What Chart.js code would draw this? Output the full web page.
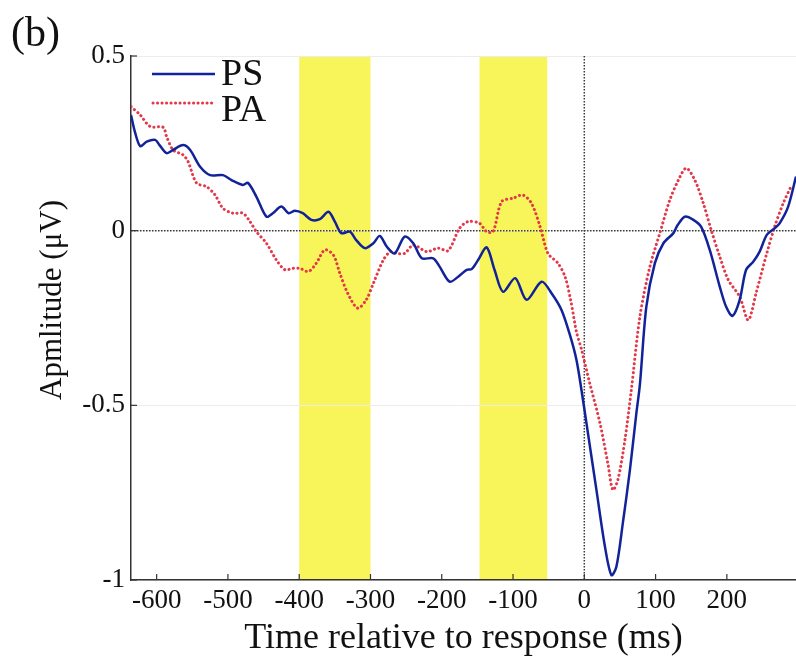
<!DOCTYPE html>
<html><head><meta charset="utf-8">
<script src="https://cdn.jsdelivr.net/npm/chart.js@4/dist/chart.umd.min.js"></script>
<style>html,body{margin:0;padding:0;background:#fff;}</style>
</head><body>
<canvas id="c" width="796" height="660"></canvas>
<script>
const panelLabel = '(b)';
const seriesNames = ['PS', 'PA'];
const psTimes = [-636,-630,-623,-614,-602,-596,-586,-577,-563,-553,-539,-525,-507,-495,-479,-472,-460,-446,-437,-425,-415,-406,-395,-383,-371,-359,-350,-341,-329,-320,-308,-296,-287,-277,-266,-252,-240,-228,-212,-203,-189,-177,-165,-158,-149,-137,-126,-114,-97,-81,-60,-46,-32,-20,-11,-4,3,17,29,38,45,54,64,73,78,87,99,111,125,131,141,153,164,176,190,199,208,218,227,237,246,256,267,274,286,297];
const psValues = [0.331,0.279,0.242,0.255,0.26,0.245,0.222,0.231,0.245,0.231,0.183,0.159,0.159,0.145,0.131,0.137,0.097,0.04,0.05,0.069,0.05,0.057,0.05,0.031,0.033,0.054,0.026,-0.007,-0.003,-0.027,-0.05,-0.036,-0.015,-0.046,-0.065,-0.017,-0.036,-0.079,-0.079,-0.103,-0.146,-0.132,-0.112,-0.11,-0.084,-0.048,-0.112,-0.175,-0.136,-0.198,-0.146,-0.179,-0.227,-0.3,-0.37,-0.456,-0.551,-0.742,-0.905,-0.986,-0.962,-0.838,-0.685,-0.523,-0.44,-0.218,-0.093,-0.036,-0.007,0.016,0.04,0.031,0.011,-0.055,-0.16,-0.218,-0.244,-0.198,-0.112,-0.089,-0.06,-0.012,0.007,0.021,0.069,0.155];
const paTimes = [-636,-623,-609,-591,-586,-577,-563,-556,-544,-530,-518,-507,-493,-479,-469,-460,-446,-432,-420,-409,-399,-387,-376,-364,-352,-343,-332,-318,-306,-296,-282,-272,-263,-252,-240,-221,-205,-191,-175,-163,-147,-137,-128,-116,-100,-86,-74,-62,-51,-37,-27,-19,-11,-4,8,22,33,40,47,57,66,78,92,106,120,132,143,155,167,178,190,202,218,230,241,256,267,279,291];
const paValues = [0.355,0.331,0.298,0.296,0.269,0.231,0.217,0.198,0.136,0.126,0.102,0.064,0.05,0.05,0.026,-0.003,-0.036,-0.084,-0.112,-0.108,-0.108,-0.117,-0.093,-0.055,-0.07,-0.122,-0.179,-0.222,-0.198,-0.151,-0.084,-0.06,-0.065,-0.065,-0.041,-0.06,-0.05,-0.057,0.007,0.026,0.021,-0.003,-0.003,0.083,0.093,0.102,0.078,0.011,-0.065,-0.093,-0.132,-0.2,-0.29,-0.34,-0.44,-0.551,-0.666,-0.742,-0.714,-0.599,-0.456,-0.246,-0.103,-0.007,0.088,0.145,0.179,0.145,0.078,0.002,-0.074,-0.141,-0.189,-0.256,-0.179,-0.065,0.011,0.078,0.131];
const shadedWindows = [[-400, -300], [-147, -52]];
const xTickValues = [-600, -500, -400, -300, -200, -100, 0, 100, 200];
const yTickValues = [-1, -0.5, 0, 0.5];
const yTickLabels = ['-1', '-0.5', '0', '0.5'];
const xRange = [-636, 297];
const yRange = [-1, 0.5];
const xTitle = 'Time relative to response (ms)';
const yTitle = 'Apmlitude (\u03bcV)';

const SERIF = '"Liberation Serif", "Times New Roman", serif';
const PS_COLOR = '#12239a';
const PA_COLOR = '#e2384a';

const decor = {
  id: 'decor',
  beforeDraw(chart) {
    const {ctx, chartArea: a, scales: {x}} = chart;
    ctx.save();
    ctx.fillStyle = '#f8f55a';
    shadedWindows.forEach(([s, e]) => {
      const x0 = x.getPixelForValue(s), x1 = x.getPixelForValue(e);
      ctx.fillRect(x0, a.top, x1 - x0, a.bottom - a.top);
    });
    ctx.restore();
  },
  beforeDatasetsDraw(chart) {
    const {ctx, chartArea: a, scales: {x, y}} = chart;
    ctx.save();
    ctx.strokeStyle = '#3a3a3a';
    ctx.lineWidth = 1.5;
    ctx.setLineDash([1.5, 1.5]);
    const y0 = y.getPixelForValue(0), x0 = x.getPixelForValue(0);
    ctx.beginPath(); ctx.moveTo(a.left, y0); ctx.lineTo(a.right, y0); ctx.stroke();
    ctx.beginPath(); ctx.moveTo(x0, a.top); ctx.lineTo(x0, a.bottom); ctx.stroke();
    ctx.restore();
  },
  afterDraw(chart) {
    const {ctx, chartArea: a, scales: {x, y}} = chart;
    ctx.save();
    // inward ticks
    ctx.strokeStyle = '#333';
    ctx.lineWidth = 1.2;
    xTickValues.forEach(v => {
      const px = x.getPixelForValue(v);
      ctx.beginPath(); ctx.moveTo(px, a.bottom); ctx.lineTo(px, a.bottom - 6); ctx.stroke();
    });
    yTickValues.forEach(v => {
      const py = y.getPixelForValue(v);
      ctx.beginPath(); ctx.moveTo(a.left, py); ctx.lineTo(a.left + 6, py); ctx.stroke();
    });
    // legend
    ctx.lineWidth = 2.5;
    ctx.strokeStyle = PS_COLOR;
    ctx.beginPath(); ctx.moveTo(152, 74); ctx.lineTo(215, 74); ctx.stroke();
    ctx.strokeStyle = PA_COLOR;
    ctx.lineWidth = 3;
    ctx.lineCap = 'round';
    ctx.setLineDash([0.1, 4.4]);
    ctx.beginPath(); ctx.moveTo(153, 103); ctx.lineTo(215, 103); ctx.stroke();
    ctx.setLineDash([]);
    ctx.fillStyle = '#111';
    ctx.font = '38px ' + SERIF;
    ctx.textBaseline = 'alphabetic';
    ctx.textAlign = 'left';
    ctx.fillText(seriesNames[0], 221, 85);
    ctx.fillText(seriesNames[1], 221, 121);
    // panel label
    ctx.font = '42px ' + SERIF;
    ctx.fillText(panelLabel, 11, 46);
    // y title
    ctx.save();
    ctx.translate(53, 300);
    ctx.rotate(-Math.PI / 2);
    ctx.font = '31px ' + SERIF;
    ctx.textAlign = 'center';
    ctx.textBaseline = 'middle';
    ctx.fillText(yTitle, 0, 0);
    ctx.restore();
    ctx.restore();
  }
};

new Chart(document.getElementById('c'), {
  type: 'line',
  data: {
    datasets: [
      {
        label: seriesNames[0],
        data: psTimes.map((t, i) => ({x: t, y: psValues[i]})),
        borderColor: PS_COLOR,
        borderWidth: 2.5,
        pointRadius: 0,
        tension: 0.3,
        fill: false
      },
      {
        label: seriesNames[1],
        data: paTimes.map((t, i) => ({x: t, y: paValues[i]})),
        borderColor: PA_COLOR,
        borderWidth: 3,
        borderDash: [0.1, 4.4],
        borderCapStyle: 'round',
        pointRadius: 0,
        tension: 0.3,
        fill: false
      }
    ]
  },
  options: {
    responsive: false,
    animation: false,
    devicePixelRatio: 1,
    layout: {padding: {left: 0, right: 0, top: 56, bottom: 0}},
    plugins: {legend: {display: false}, tooltip: {enabled: false}},
    scales: {
      x: {
        type: 'linear',
        min: xRange[0],
        max: xRange[1],
        afterBuildTicks(s) { s.ticks = xTickValues.map(v => ({value: v})); },
        afterFit(s) { s.height = 80; },
        grid: {display: false, drawTicks: false},
        border: {display: true, color: '#333', width: 1.5},
        ticks: {
          color: '#111',
          padding: 5,
          maxRotation: 0,
          autoSkip: false,
          font: {family: SERIF, size: 27},
          callback: v => String(v)
        },
        title: {
          display: true,
          text: xTitle,
          color: '#111',
          font: {family: SERIF, size: 36},
          padding: {top: 0, bottom: 0}
        }
      },
      y: {
        type: 'linear',
        min: yRange[0],
        max: yRange[1],
        afterBuildTicks(s) { s.ticks = yTickValues.map(v => ({value: v})); },
        afterFit(s) { s.width = 131; },
        grid: {display: true, color: '#ececec', lineWidth: 1, drawTicks: false},
        border: {display: true, color: '#333', width: 1.5},
        ticks: {
          color: '#111',
          padding: 6,
          autoSkip: false,
          font: {family: SERIF, size: 27},
          callback: v => yTickLabels[yTickValues.indexOf(v)]
        },
        title: {display: false}
      }
    }
  },
  plugins: [decor]
});
</script>
</body></html>
